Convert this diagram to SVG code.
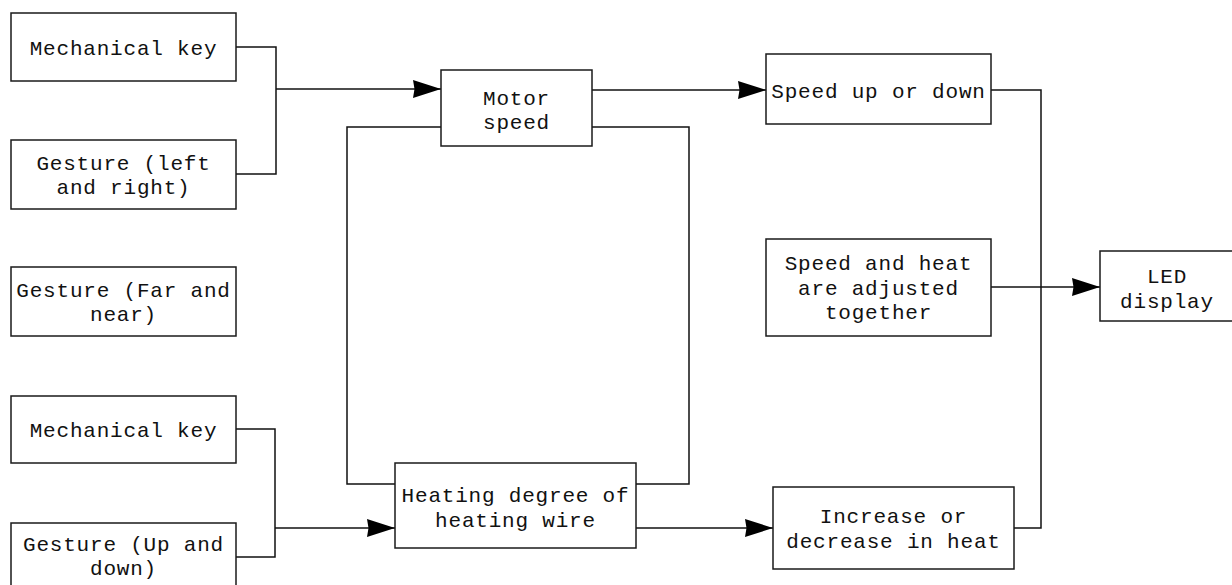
<svg xmlns="http://www.w3.org/2000/svg" width="1232" height="585" viewBox="0 0 1232 585">
<style>
.box{fill:#fff;stroke:#1a1a1a;stroke-width:1.5}
.t{font-family:"Liberation Mono","DejaVu Sans Mono",monospace;font-size:21px;letter-spacing:0.8px;fill:#111;text-anchor:middle}
.c{fill:none;stroke:#111;stroke-width:1.5}
</style>
<defs>
<marker id="arr" markerUnits="userSpaceOnUse" markerWidth="28" markerHeight="20" viewBox="0 0 28 20" refX="28" refY="10" orient="auto">
<path d="M0,1 L28,10 L0,19 L1.5,10 Z" fill="#000"/>
</marker>
</defs>
<rect width="1232" height="585" fill="#fff"/>
<g id="connectors">
<path class="c" d="M236,47 H276 V174 H236"/>
<path class="c" d="M276,89 H441" marker-end="url(#arr)"/>
<path class="c" d="M592,90 H766" marker-end="url(#arr)"/>
<path class="c" d="M441,127 H347 V484 H395"/>
<path class="c" d="M592,127 H689 V484 H636"/>
<path class="c" d="M236,429 H275 V557 H236"/>
<path class="c" d="M275,528 H395" marker-end="url(#arr)"/>
<path class="c" d="M636,528 H773" marker-end="url(#arr)"/>
<path class="c" d="M991,90 H1041 V528 H1014"/>
<path class="c" d="M991,287 H1100" marker-end="url(#arr)"/>
</g>
<g id="mech-key-1">
<rect class="box" x="11" y="13" width="225" height="68"/>
<text class="t" x="123.5" y="55">Mechanical key</text>
</g>
<g id="gesture-left-right">
<rect class="box" x="11" y="140" width="225" height="69"/>
<text class="t" x="123.5" y="170">Gesture (left</text>
<text class="t" x="123.5" y="194">and right)</text>
</g>
<g id="gesture-far-near">
<rect class="box" x="11" y="267" width="225" height="69"/>
<text class="t" x="123.5" y="297">Gesture (Far and</text>
<text class="t" x="123.5" y="321">near)</text>
</g>
<g id="mech-key-2">
<rect class="box" x="11" y="396" width="225" height="67"/>
<text class="t" x="123.5" y="437">Mechanical key</text>
</g>
<g id="gesture-up-down">
<rect class="box" x="11" y="523" width="225" height="69"/>
<text class="t" x="123.5" y="551">Gesture (Up and</text>
<text class="t" x="123.5" y="575">down)</text>
</g>
<g id="motor-speed">
<rect class="box" x="441" y="70" width="151" height="76"/>
<text class="t" x="516.5" y="105">Motor</text>
<text class="t" x="516.5" y="129">speed</text>
</g>
<g id="heating-degree">
<rect class="box" x="395" y="463" width="241" height="85"/>
<text class="t" x="515.5" y="502">Heating degree of</text>
<text class="t" x="515.5" y="527">heating wire</text>
</g>
<g id="speed-up-down">
<rect class="box" x="766" y="54" width="225" height="70"/>
<text class="t" x="878.5" y="98">Speed up or down</text>
</g>
<g id="speed-heat-together">
<rect class="box" x="766" y="239" width="225" height="97"/>
<text class="t" x="878.5" y="270">Speed and heat</text>
<text class="t" x="878.5" y="295">are adjusted</text>
<text class="t" x="878.5" y="319">together</text>
</g>
<g id="increase-decrease-heat">
<rect class="box" x="773" y="487" width="241" height="82"/>
<text class="t" x="893.5" y="523">Increase or</text>
<text class="t" x="893.5" y="548">decrease in heat</text>
</g>
<g id="led-display">
<rect class="box" x="1100" y="251" width="134" height="70"/>
<text class="t" x="1167" y="283">LED</text>
<text class="t" x="1167" y="308">display</text>
</g>
</svg>
